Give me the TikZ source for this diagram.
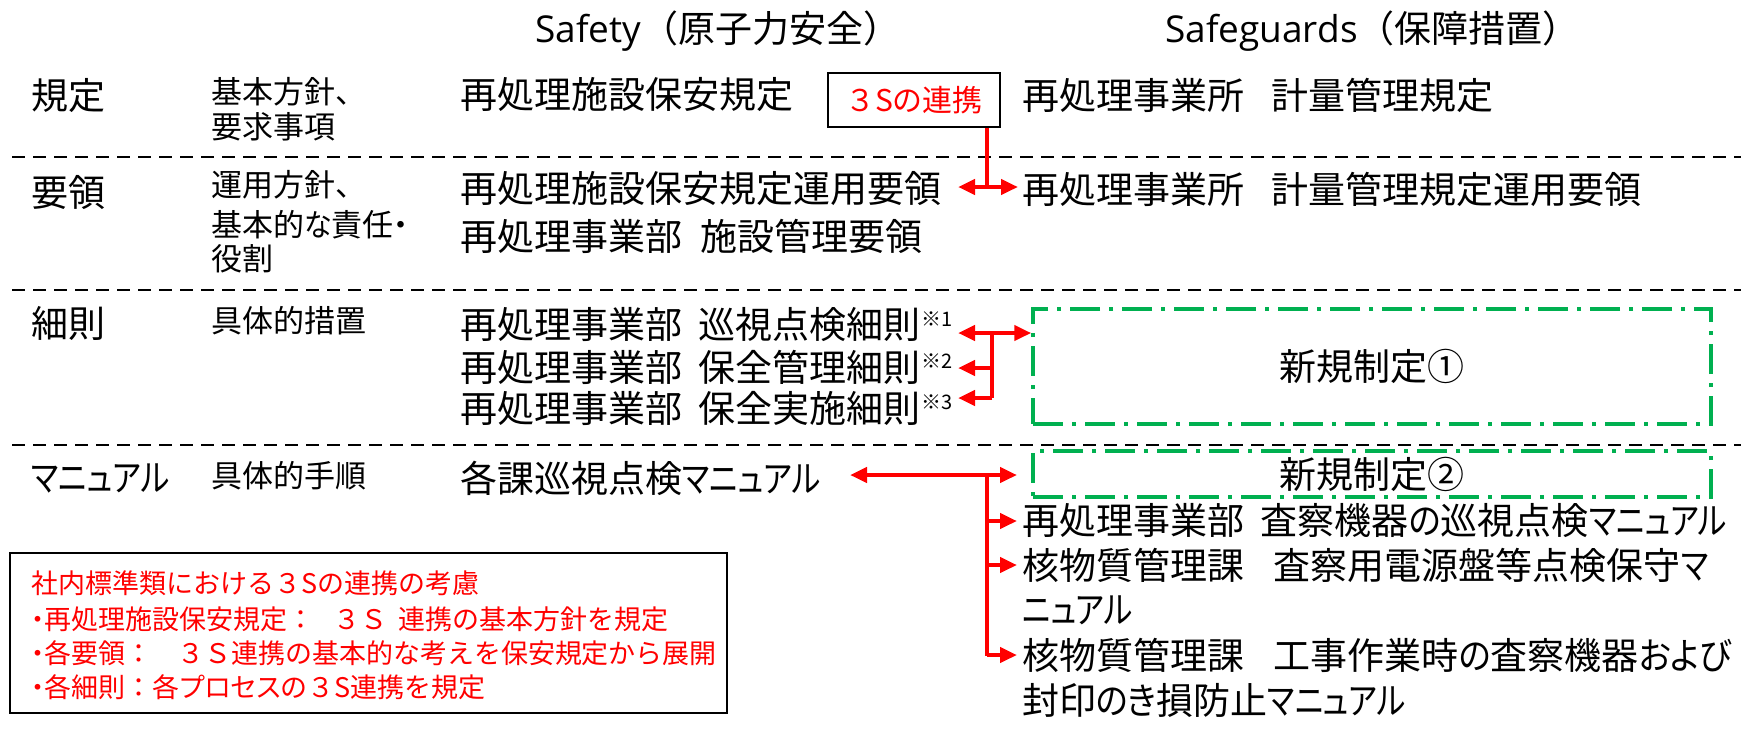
\documentclass[tikz,border=0pt]{standalone}
\usepackage{fontspec}
\usepackage{graphicx}
\setmainfont{Noto Sans CJK JP}
\newfontfamily\pfont{Noto Sans CJK JP}[RawFeature=+palt]
\newfontfamily\latinfont{Open Sans}
\usetikzlibrary{arrows.meta}
\definecolor{myred}{RGB}{255,0,0}
\definecolor{mygreen}{RGB}{0,176,80}
\newcommand{\kt}[1]{\scalebox{0.83}[1]{\pfont #1}}
\newcommand{\hg}[1]{\scalebox{0.9}[1]{\pfont #1}}
\newcommand{\pp}[1]{{\pfont #1}}
\begin{document}
\begin{tikzpicture}[x=1pt,y=-1pt,
  big/.style={font=\fontsize{37}{44}\selectfont, anchor=west, inner sep=0pt},
  small/.style={font=\fontsize{31}{36}\selectfont, anchor=west, inner sep=0pt},
  note/.style={font=\fontsize{27}{31}\selectfont, anchor=west, inner sep=0pt, text=myred},
  sup/.style={font=\fontsize{20}{24}\selectfont, anchor=west, inner sep=0pt},
  sep/.style={line width=2.5pt, dash pattern=on 13pt off 8pt},
  gbox/.style={draw=mygreen, line width=3.5pt, dash pattern=on 30pt off 9pt on 4pt off 9pt, font=\fontsize{37}{44}\selectfont, inner sep=0pt},
  ln/.style={draw=myred, line width=4.5pt},
  tip/.tip={Triangle[length=17pt, width=15pt]}
  ]
\useasboundingbox (0,0) rectangle (1745,731);
\fill[white] (0,0) rectangle (1745,731);

% headers
\node[big] (hsafety) at (535,31) {{\latinfont Safety}（原子力安全）};
\node[big] (hsafeg) at (1165,31) {{\latinfont Safeguards}（保障措置）};

% separators
\coordinate (s1l) at (12,157); \coordinate (s1r) at (1741,157);
\coordinate (s2l) at (12,290); \coordinate (s2r) at (1741,290);
\coordinate (s3l) at (12,445); \coordinate (s3r) at (1741,445);
\draw[sep] (s1l) -- (s1r);
\draw[sep] (s2l) -- (s2r);
\draw[sep] (s3l) -- (s3r);

% row 1
\node[big] (l1) at (31,96) {規定};
\node[small] (d1a) at (211,92) {基本方針、};
\node[small] (d1b) at (211,127) {要求事項};
\node[big] (m1) at (460,95) {再処理施設保安規定};
\node[draw=black, line width=2pt, minimum width=172pt, minimum height=54pt, inner sep=0pt,
      font=\fontsize{30}{34}\selectfont, text=myred] (s3s) at (914,100) {３Sの連携};
\node[big] (r1) at (1022,95) {再処理事業所\hspace{0.75em}計量管理規定};

% row 2
\node[big] (l2) at (31,192) {要領};
\node[small] (d2a) at (211,185) {運用方針、};
\node[small] (d2b) at (211,225) {基本的\hg{な}責任\pp{・}};
\node[small] (d2c) at (211,259) {役割};
\node[big] (m2a) at (460,189) {再処理施設保安規定運用要領};
\node[big] (m2b) at (460,236) {再処理事業部\hspace{0.5em}施設管理要領};
\node[big] (r2) at (1022,189) {再処理事業所\hspace{0.75em}計量管理規定運用要領};

\coordinate (j2) at (987,187);
\coordinate (t2l) at (958,187);
\coordinate (t2r) at (1018,187);
\draw[ln] (s3s.south -| j2) -- (j2);
\draw[ln, tip-tip] (t2l) -- (t2r);

% row 3
\node[big] (l3) at (31,323) {細則};
\node[small] (d3) at (211,321) {具体的措置};
\node[big] (m3a) at (460,325) {再処理事業部\hspace{0.45em}巡視点検細則};
\node[sup] (n3a) at (m3a.east |- 0,319) {※1};
\node[big] (m3b) at (460,367) {再処理事業部\hspace{0.45em}保全管理細則};
\node[sup] (n3b) at (m3b.east |- 0,361) {※2};
\node[big] (m3c) at (460,408) {再処理事業部\hspace{0.45em}保全実施細則};
\node[sup] (n3c) at (m3c.east |- 0,402) {※3};

\node[gbox, minimum width=678pt, minimum height=115pt] (g1) at (1372,366.5) {新規制定①};

\coordinate (j3a) at (992,333);
\coordinate (j3b) at (992,368);
\coordinate (j3c) at (992,398);
\coordinate (t3a) at (958,333);
\coordinate (t3b) at (958,368);
\coordinate (t3c) at (958,398);
\draw[ln, -tip] (j3a) -- (t3a);
\draw[ln, -tip] (j3a) -- (g1.west |- j3a);
\draw[ln] (j3a) -- (j3c);
\draw[ln, -tip] (j3b) -- (t3b);
\draw[ln, -tip] (j3c) -- (t3c);

% row 4
\node[big] (l4) at (31,478) {\kt{マニュアル}};
\node[small] (d4) at (211,476) {具体的手順};
\node[big] (m4) at (460,478) {各課巡視点検\kt{マニュアル}};

\node[gbox, minimum width=678pt, minimum height=46pt] (g2) at (1372,474) {新規制定②};

\node[big] (r4a) at (1022,521) {再処理事業部\hspace{0.45em}査察機器\hg{の}巡視点検\kt{マニュアル}};
\node[big] (r4b) at (1022,565) {核物質管理課\hspace{0.8em}査察用電源盤等点検保守\kt{マ}};
\node[big] (r4c) at (1022,610) {\kt{ニュアル}};
\node[big] (r4d) at (1022,655) {核物質管理課\hspace{0.8em}工事作業時\hg{の}査察機器\hg{および}};
\node[big] (r4e) at (1022,700) {封印\hg{のき}損防止\kt{マニュアル}};

\coordinate (j4) at (987,475);
\coordinate (t4l) at (850,475);
\coordinate (t4r) at (1017,475);
\coordinate (j4e) at (987,656);
\draw[ln, tip-tip] (t4l) -- (t4r);
\draw[ln] (j4) -- (j4e);
\draw[ln, -tip] (r4a.west -| j4) -- ([xshift=-5pt]r4a.west);
\draw[ln, -tip] (r4b.west -| j4) -- ([xshift=-5pt]r4b.west);
\draw[ln, -tip] (r4d.west -| j4) -- ([xshift=-5pt]r4d.west);

% note box
\node[draw=black, line width=2.5pt, minimum width=717pt, minimum height=160pt, inner sep=0pt] (nb) at (368.5,633) {};
\node[note] (nt1) at (31,583) {社内標準類における３Sの連携の考慮};
\node[note] (nt2) at (31,619) {\pp{・}再処理施設保安規定：\hspace{0.7em}３Ｓ\hspace{0.4em}連携の基本方針を規定};
\node[note] (nt3) at (31,653) {\pp{・}各要領：\hspace{0.9em}３Ｓ連携の基本的な考えを保安規定から展開};
\node[note] (nt4) at (31,687) {\pp{・}各細則：各\pp{プロセス}の３S連携を規定};
\end{tikzpicture}
\end{document}
